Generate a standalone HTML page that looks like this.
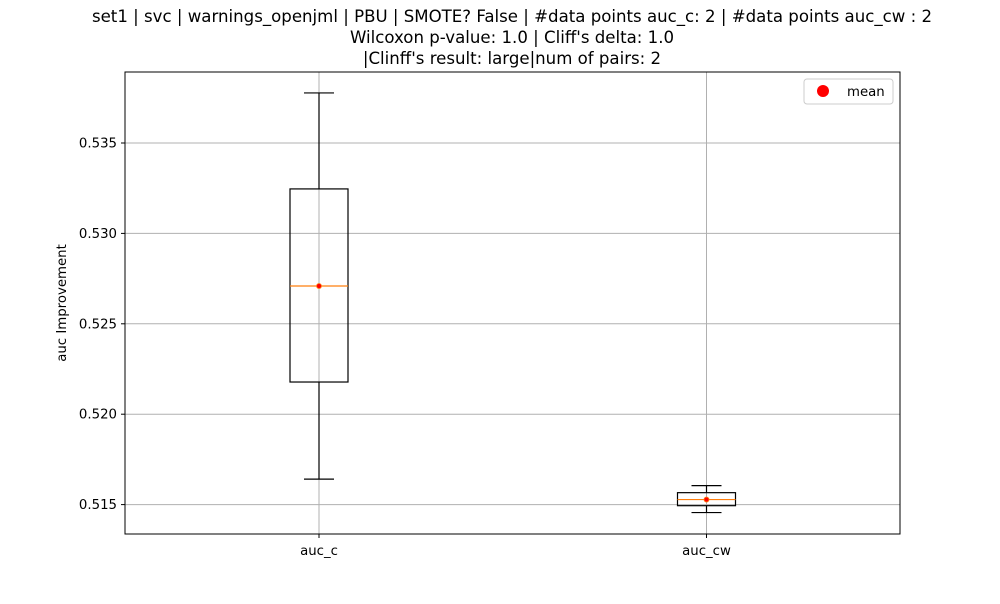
<!DOCTYPE html>
<html><head><meta charset="utf-8"><style>
body{margin:0;background:#fff;font-family:"DejaVu Sans","Liberation Sans",sans-serif;}
</style></head><body>
<svg id="chart" width="1000" height="600" viewBox="0 0 1000 600" font-family="DejaVu Sans, Liberation Sans, sans-serif">
<rect width="1000" height="600" fill="#fff"/>
<g font-size="16.6" text-anchor="middle" fill="#000">
<text x="512" y="22">set1 | svc | warnings_openjml | PBU | SMOTE? False | #data points auc_c: 2 | #data points auc_cw : 2</text>
<text x="512" y="43">Wilcoxon p-value: 1.0 | Cliff's delta: 1.0</text>
<text x="512" y="64">|Clinff's result: large|num of pairs: 2</text>
</g>
<g id="grid"></g>
<g id="marks"></g>
<rect x="125" y="72" width="775" height="462" fill="none" stroke="#000" stroke-width="1"/>
<g id="axes" font-size="13.3" fill="#000"></g>
<text x="66" y="303" font-size="13.3" text-anchor="middle" transform="rotate(-90 66 303)">auc Improvement</text>
<g>
<rect x="804" y="79" width="89" height="25" rx="3" fill="#fff" stroke="#ccc"/>
<circle cx="823" cy="91" r="6" fill="red"/>
<text x="847" y="96" font-size="13.3">mean</text>
</g>
</svg>
<script>
const categories=["auc_c","auc_cw"];
const whiskerHigh=[0.53777,0.51605];
const q3=[0.53246,0.51566];
const medians=[0.52709,0.51528];
const q1=[0.52178,0.51494];
const whiskerLow=[0.51641,0.51456];
const means=[0.52709,0.51528];
const yTicks=[0.515,0.520,0.525,0.530,0.535];
const yTickLabels=["0.515","0.520","0.525","0.530","0.535"];
const NS="http://www.w3.org/2000/svg";
function y(v){return 143+(0.535-v)*18080;}
function x(i){return 319+i*387.5;}
function mk(tag,attrs,parent){const e=document.createElementNS(NS,tag);for(const k in attrs)e.setAttribute(k,attrs[k]);document.getElementById(parent).appendChild(e);return e;}
yTicks.forEach((t,i)=>{
 const g=mk('line',{x1:125,x2:900,y1:y(t),y2:y(t),stroke:'#b0b0b0','stroke-width':1},'grid');
 
 
 mk('line',{x1:121,x2:125,y1:y(t),y2:y(t),stroke:'#000'},'axes');
 const tx=mk('text',{x:117,y:y(t)+4.5,'text-anchor':'end'},'axes');tx.textContent=yTickLabels[i];
 
 
});
categories.forEach((c,i)=>{
 const cx=x(i);
 const g=mk('line',{x1:cx,x2:cx,y1:72,y2:534,stroke:'#b0b0b0'},'grid');
 
 
 mk('line',{x1:cx,x2:cx,y1:534,y2:538,stroke:'#000'},'axes');
 const tx=mk('text',{x:cx,y:555,'text-anchor':'middle'},'axes');tx.textContent=c;
 
 
 const s={stroke:'#000','stroke-width':1.2,fill:'none'};
 const w1=mk('line',Object.assign({x1:cx,x2:cx,y1:y(q3[i]),y2:y(whiskerHigh[i])},s),'marks');
 
 
 const w2=mk('line',Object.assign({x1:cx,x2:cx,y1:y(q1[i]),y2:y(whiskerLow[i])},s),'marks');
 
 
 const c1=mk('line',Object.assign({x1:cx-15,x2:cx+15,y1:y(whiskerHigh[i]),y2:y(whiskerHigh[i])},s),'marks');
 
 
 const c2=mk('line',Object.assign({x1:cx-15,x2:cx+15,y1:y(whiskerLow[i]),y2:y(whiskerLow[i])},s),'marks');
 
 
 const b=mk('rect',Object.assign({x:cx-29,width:58,y:y(q3[i]),height:y(q1[i])-y(q3[i])},s),'marks');
 
 
 const m=mk('line',{x1:cx-29,x2:cx+29,y1:y(medians[i]),y2:y(medians[i]),stroke:'#ff7f0e','stroke-width':1.2},'marks');
 
 
 const p=mk('circle',{cx:cx,cy:y(means[i]),r:2.5,fill:'red',stroke:'#ff7f0e','stroke-width':0.8},'marks');
 
 
});
</script>
</body></html>
